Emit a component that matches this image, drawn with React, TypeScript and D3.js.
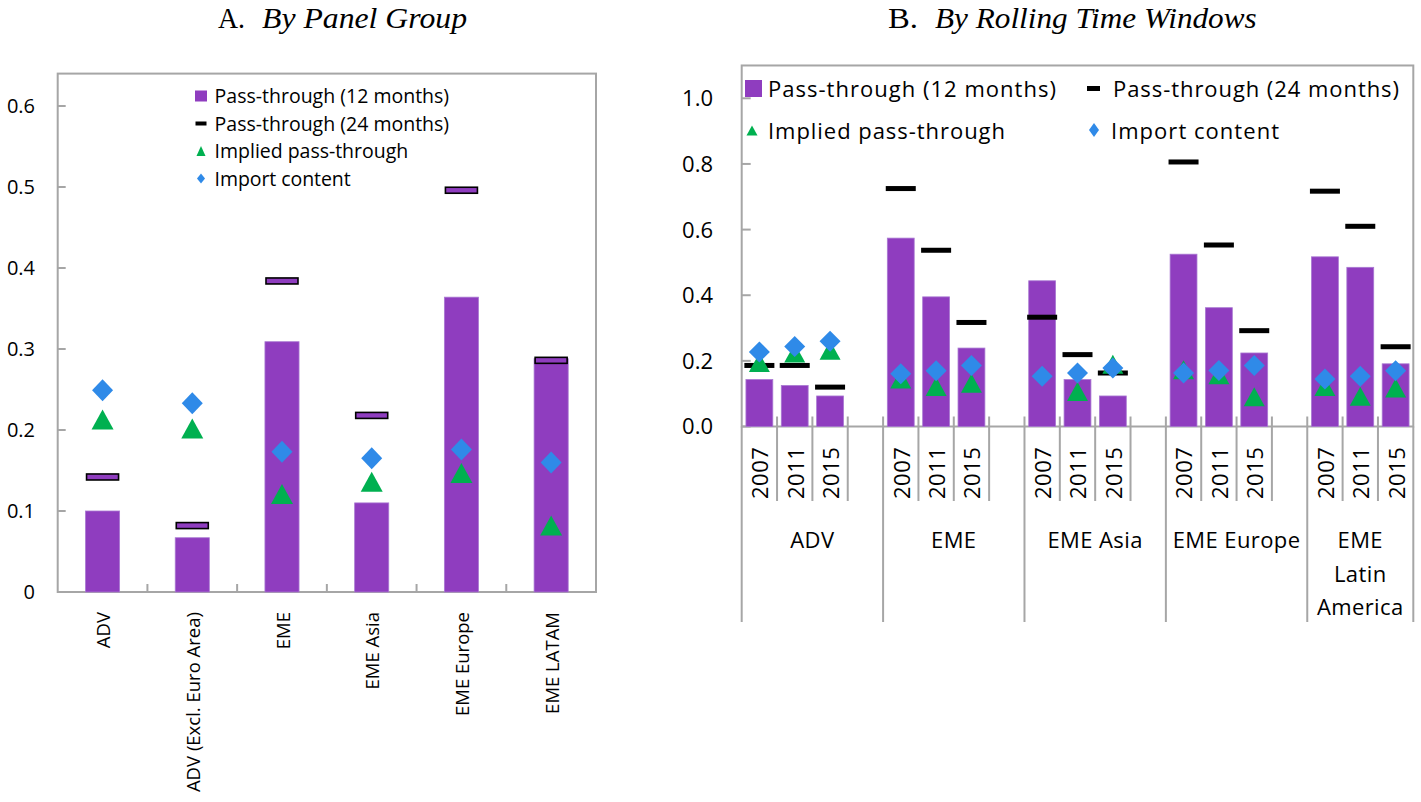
import React from "react";
import * as d3 from "d3";

// ---------- Panel A data ----------
const categoriesA = ["ADV", "ADV (Excl. Euro Area)", "EME", "EME Asia", "EME Europe", "EME LATAM"];
const pass12A = [0.1, 0.067, 0.309, 0.11, 0.364, 0.288];
const pass24A = [0.142, 0.082, 0.384, 0.218, 0.496, 0.286];
const impliedA = [0.213, 0.202, 0.121, 0.136, 0.147, 0.082];
const importA = [0.249, 0.233, 0.173, 0.165, 0.176, 0.16];
const ticksA = [0, 0.1, 0.2, 0.3, 0.4, 0.5, 0.6];

// ---------- Panel B data ----------
const groupsB = ["ADV", "EME", "EME Asia", "EME Europe", "EME Latin America"];
const yearsB = ["2007", "2011", "2015"];
const pass12B = [
  [0.143, 0.125, 0.093],
  [0.574, 0.395, 0.239],
  [0.444, 0.143, 0.093],
  [0.525, 0.362, 0.224],
  [0.517, 0.485, 0.191],
];
const pass24B = [
  [0.186, 0.186, 0.12],
  [0.725, 0.537, 0.317],
  [0.333, 0.219, 0.163],
  [0.806, 0.553, 0.292],
  [0.717, 0.61, 0.243],
];
const impliedB: (number | null)[][] = [
  [0.195, 0.224, 0.232],
  [0.145, 0.122, 0.132],
  [null, 0.107, 0.19],
  [0.173, 0.158, 0.091],
  [0.122, 0.092, 0.117],
];
const importB = [
  [0.227, 0.244, 0.26],
  [0.161, 0.17, 0.186],
  [0.153, 0.163, 0.178],
  [0.163, 0.171, 0.186],
  [0.145, 0.153, 0.17],
];
const ticksB = [0, 0.2, 0.4, 0.6, 0.8, 1.0];
const legendLabels = ["Pass-through (12 months)", "Pass-through (24 months)", "Implied pass-through", "Import content"];

const PURPLE = "#8F3DBF";
const GREEN = "#00B050";
const BLUE = "#2F8AE8";
const GRAY = "#A6A6A6";
const FONT = "'Open Sans', 'Noto Sans', sans-serif";
const SERIF = "'Liberation Serif', 'Times New Roman', serif";

function tri(cx: number, cy: number, w: number, h: number) {
  const p = d3.path();
  p.moveTo(cx, cy - h / 2);
  p.lineTo(cx + w / 2, cy + h / 2);
  p.lineTo(cx - w / 2, cy + h / 2);
  p.closePath();
  return p.toString();
}
function dia(cx: number, cy: number, w: number, h: number) {
  const p = d3.path();
  p.moveTo(cx, cy - h / 2);
  p.lineTo(cx + w / 2, cy);
  p.lineTo(cx, cy + h / 2);
  p.lineTo(cx - w / 2, cy);
  p.closePath();
  return p.toString();
}

function PanelA() {
  const left = 57.7, right = 596;
  const x = d3.scaleBand<string>().domain(categoriesA).range([left, right]);
  const y = d3.scaleLinear().domain([0, 0.6]).range([592, 106]);
  const top = y(0.64);
  const bw = x.bandwidth() * 0.38;
  const cx = (c: string) => (x(c) as number) + x.bandwidth() / 2;
  const legendX = 201, textX = 214.6;
  const legendY = [96, 123.5, 151, 178.5];
  const legendW = [234.5, 234.5, 193.6, 136];
  return (
    <g>
      <rect x={left} y={top} width={right - left} height={y(0) - top} fill="none" stroke={GRAY} strokeWidth={2} />
      {ticksA.map((t) => (
        <g key={t}>
          <line x1={left} x2={left + 8} y1={y(t)} y2={y(t)} stroke={GRAY} strokeWidth={2} />
          <text x={35} y={y(t)} dy="0.36em" textAnchor="end" fontSize={20} fontFamily={FONT}>
            {t === 0 ? "0" : d3.format(".1f")(t)}
          </text>
        </g>
      ))}
      {categoriesA.slice(1).map((c) => (
        <line key={c} x1={x(c)} x2={x(c)} y1={y(0)} y2={y(0) - 8} stroke={GRAY} strokeWidth={2} />
      ))}
      {categoriesA.map((c, i) => (
        <rect key={"b" + c} x={cx(c) - bw / 2} y={y(pass12A[i])} width={bw} height={y(0) - y(pass12A[i])} fill={PURPLE} stroke="#A978D2" strokeWidth={0.8} />
      ))}
      {categoriesA.map((c, i) => (
        <rect key={"d" + c} x={cx(c) - 16} y={y(pass24A[i]) - 3} width={32} height={6} fill={PURPLE} stroke="#000" strokeWidth={1.6} />
      ))}
      {categoriesA.map((c, i) => (
        <path key={"t" + c} d={tri(cx(c), y(impliedA[i]), 22, 20)} fill={GREEN} />
      ))}
      {categoriesA.map((c, i) => (
        <path key={"m" + c} d={dia(cx(c), y(importA[i]), 21, 22)} fill={BLUE} />
      ))}
      {categoriesA.map((c) => (
        <text key={"l" + c} transform={`translate(${cx(c) + 1},612) rotate(-90)`} dy="0.36em" textAnchor="end" fontSize={18.5} fontFamily={FONT}>
          {c}
        </text>
      ))}
      {/* legend */}
      <rect x={legendX - 6} y={legendY[0] - 5.5} width={12} height={11} fill={PURPLE} />
      <rect x={legendX - 5.5} y={legendY[1] - 2} width={11} height={4} fill="#000" />
      <path d={tri(legendX, legendY[2], 9, 10)} fill={GREEN} />
      <path d={dia(legendX, legendY[3], 8, 10)} fill={BLUE} />
      {legendLabels.map((l, i) => (
        <text key={l} x={textX} y={legendY[i] + 7.3} fontSize={19.5} fontFamily={FONT} textLength={legendW[i]} lengthAdjust="spacing">
          {l}
        </text>
      ))}
    </g>
  );
}

function PanelB() {
  const left = 741.7, right = 1413.3;
  const nSlots = groupsB.length * 4 - 1;
  const slots = d3.range(nSlots);
  const x = d3.scaleBand<number>().domain(slots).range([left, right]);
  const y = d3.scaleLinear().domain([0, 1]).range([426.5, 98.3]);
  const top = y(1.1);
  const bw = x.bandwidth() * 0.76;
  const slotOf = (g: number, i: number) => g * 4 + i;
  const cx = (s: number) => (x(s) as number) + x.bandwidth() / 2;
  const boundaryX = (s: number) => (s >= nSlots ? right : (x(s) as number));
  const items: { g: number; i: number; s: number }[] = [];
  groupsB.forEach((_, g) => yearsB.forEach((_, i) => items.push({ g, i, s: slotOf(g, i) })));
  return (
    <g>
      <rect x={left} y={top} width={right - left} height={y(0) - top} fill="none" stroke={GRAY} strokeWidth={2} />
      {ticksB.map((t) => (
        <g key={t}>
          <line x1={left} x2={left + 9} y1={y(t)} y2={y(t)} stroke={GRAY} strokeWidth={2} />
          <text x={713} y={y(t)} dy="0.36em" textAnchor="end" fontSize={22} fontFamily={FONT}>
            {d3.format(".1f")(t)}
          </text>
        </g>
      ))}
      {slots.slice(1).map((s) => (
        <line key={"tk" + s} x1={x(s)} x2={x(s)} y1={y(0)} y2={y(0) - 10} stroke={GRAY} strokeWidth={2} />
      ))}
      {/* label separators below axis */}
      {d3.range(nSlots + 1).map((s) => {
        const isGroup = s % 4 === 0 || s === nSlots;
        const inBlank = s % 4 === 0 ? false : false;
        if (inBlank) return null;
        return (
          <line key={"sep" + s} x1={boundaryX(s)} x2={boundaryX(s)} y1={y(0)} y2={isGroup ? 622 : 501} stroke={GRAY} strokeWidth={2} />
        );
      })}
      {items.map(({ g, i, s }) => (
        <rect key={"b" + s} x={cx(s) - bw / 2} y={y(pass12B[g][i])} width={bw} height={y(0) - y(pass12B[g][i])} fill={PURPLE} stroke="#A978D2" strokeWidth={0.8} />
      ))}
      {items.map(({ g, i, s }) => (
        <rect key={"d" + s} x={cx(s) - 15} y={y(pass24B[g][i]) - 2.5} width={30} height={5} fill="#000" />
      ))}
      {items.map(({ g, i, s }) =>
        impliedB[g][i] == null ? null : <path key={"t" + s} d={tri(cx(s), y(impliedB[g][i] as number), 21, 19)} fill={GREEN} />
      )}
      {items.map(({ g, i, s }) => (
        <path key={"m" + s} d={dia(cx(s), y(importB[g][i]), 21, 21)} fill={BLUE} />
      ))}
      {items.map(({ i, s }) => (
        <text key={"y" + s} transform={`translate(${cx(s) + 1},499) rotate(-90)`} dy="0.36em" textAnchor="start" fontSize={22} fontFamily={FONT} letterSpacing={0.5}>
          {yearsB[i]}
        </text>
      ))}
      {groupsB.map((gname, g) => {
        const x0 = x(g * 4) as number;
        const x1 = boundaryX(Math.min(g * 4 + 4, nSlots));
        const mid = (x0 + x1) / 2;
        const lines = gname === "EME Latin America" ? ["EME", "Latin", "America"] : [gname];
        return (
          <text key={"g" + g} x={mid} y={548} textAnchor="middle" fontSize={22} fontFamily={FONT} letterSpacing={0.4}>
            {lines.map((ln, k) => (
              <tspan key={k} x={mid} dy={k === 0 ? 0 : 33.5}>
                {ln}
              </tspan>
            ))}
          </text>
        );
      })}
      {/* legend */}
      <rect x={745} y={80} width={17} height={17} fill={PURPLE} />
      <rect x={1087} y={86} width={13} height={5} fill="#000" />
      <path d={tri(752, 130.5, 11, 10)} fill={GREEN} />
      <path d={dia(1094, 130, 10, 14)} fill={BLUE} />
      <text x={768} y={96.7} fontSize={22} fontFamily={FONT} textLength={288} lengthAdjust="spacing">{legendLabels[0]}</text>
      <text x={1113} y={96.7} fontSize={22} fontFamily={FONT} textLength={286} lengthAdjust="spacing">{legendLabels[1]}</text>
      <text x={768} y={139.3} fontSize={22} fontFamily={FONT} textLength={237} lengthAdjust="spacing">{legendLabels[2]}</text>
      <text x={1111} y={139.3} fontSize={22} fontFamily={FONT} textLength={168} lengthAdjust="spacing">{legendLabels[3]}</text>
    </g>
  );
}

export default function App() {
  return (
    <svg width={1421} height={802} style={{ position: "absolute", left: 0, top: 0, background: "#fff" }}>
      <rect width={1421} height={802} fill="#fff" />
      <text x={218} y={28.3} fontSize={29} fontFamily={SERIF} textLength={27} lengthAdjust="spacingAndGlyphs">A.</text>
      <text x={262} y={28.3} fontSize={29} fontFamily={SERIF} fontStyle="italic" textLength={205} lengthAdjust="spacingAndGlyphs">By Panel Group</text>
      <text x={888} y={28.3} fontSize={29} fontFamily={SERIF} textLength={30} lengthAdjust="spacingAndGlyphs">B.</text>
      <text x={935} y={28.3} fontSize={29} fontFamily={SERIF} fontStyle="italic" textLength={321.7} lengthAdjust="spacingAndGlyphs">By Rolling Time Windows</text>
      <PanelA />
      <PanelB />
    </svg>
  );
}
